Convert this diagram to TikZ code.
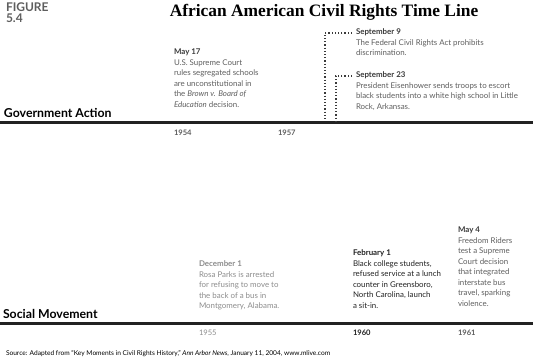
\documentclass[tikz,border=0pt]{standalone}
\usepackage{fontspec}
\setmainfont{Lato}
\newfontfamily\titlefont{Liberation Serif}
\usetikzlibrary{positioning}
\definecolor{rule}{HTML}{222222}
\definecolor{head}{HTML}{3a3a3a}
\definecolor{txtmid}{HTML}{5e5e5e}
\definecolor{txtlight}{HTML}{8c8c8c}
\begin{document}
\begin{tikzpicture}[x=1pt,y=-1pt,
    every node/.style={inner sep=0pt,outer sep=0pt},
    evt/.style={anchor=north west,align=left,font=\fontsize{7.9}{10.5}\selectfont},
    yr/.style={anchor=north west,font=\fontsize{7.6}{9}\selectfont\bfseries},
    side/.style={anchor=base west,font=\fontsize{12.3}{13}\selectfont\bfseries,text=black},
    dotline/.style={line width=1.2pt,dash pattern=on 1.2pt off 2pt,color=head}]
\useasboundingbox (0,0) rectangle (533,360);
% heading
\node[anchor=base west,align=left,text=txtmid,font=\fontsize{12}{11}\selectfont\bfseries] (fig) at (6,11) {FIGURE};
\node[anchor=base west,text=txtmid,font=\fontsize{12}{11}\selectfont\bfseries] (fignum) at (6,22) {5.4};
\node[anchor=base,font=\titlefont\fontsize{17.4}{18}\selectfont\bfseries] (title) at (324,16) {African American Civil Rights Time Line};
% the two time lines
\draw[rule,line width=3pt] (0,122) -- (533,122);
\draw[rule,line width=3pt] (0,323) -- (533,323);
\node[side] (gov) at (4,117) {Government Action};
\node[side] (soc) at (3,318) {Social Movement};
% government action
\node[evt,text=txtmid] (may17) at (174,49) {\textbf{\color{head}May 17}\\U.S. Supreme Court\\rules segregated schools\\are unconstitutional in\\the \emph{Brown v. Board of}\\\emph{Education} decision.};
\node[evt,text=txtmid] (sep9) at (356,29) {\textbf{\color{head}September 9}\\The Federal Civil Rights Act prohibits\\discrimination.};
\node[evt,text=txtmid] (sep23) at (356,72) {\textbf{\color{head}September 23}\\President Eisenhower sends troops to escort\\black students into a white high school in Little\\Rock, Arkansas.};
\node[yr,text=txtmid] (y1954) at (174,130) {1954};
\node[yr,text=txtmid] (y1957) at (278,130) {1957};
\coordinate (d9) at (352,33);
\coordinate (d23) at (352,76);
\coordinate (g9) at (325,121);
\coordinate (g23) at (336,121);
\draw[dotline] (d9) -| (g9);
\draw[dotline] (d23) -| (g23);
% social movement
\node[evt,text=txtlight] (dec1) at (199,261) {\textbf{December 1}\\Rosa Parks is arrested\\for refusing to move to\\the back of a bus in\\Montgomery, Alabama.};
\node[evt,text=rule] (feb1) at (353,250) {\textbf{February 1}\\Black college students,\\refused service at a lunch\\counter in Greensboro,\\North Carolina, launch\\a sit-in.};
\node[evt,text=txtmid] (may4) at (458,227) {\textbf{\color{head}May 4}\\Freedom Riders\\test a Supreme\\Court decision\\that integrated\\interstate bus\\travel, sparking\\violence.};
\node[yr,text=txtlight,font=\fontsize{7.6}{9}\selectfont] (y1955) at (199,330) {1955};
\node[yr,text=rule] (y1960) at (353,330) {1960};
\node[yr,text=txtmid] (y1961) at (458,330) {1961};
% source
\node[anchor=base west,font=\fontsize{6.6}{8}\selectfont] (src) at (6,355) {Source: Adapted from ``Key Moments in Civil Rights History,'' \emph{Ann Arbor News}, January 11, 2004, www.mlive.com};
\end{tikzpicture}
\end{document}
